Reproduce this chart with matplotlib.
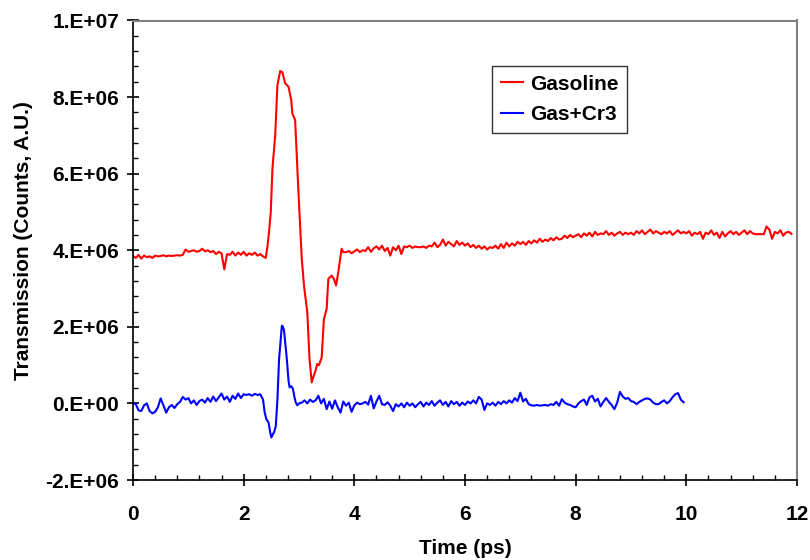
import numpy as np
import matplotlib
matplotlib.use("Agg")
import matplotlib.pyplot as plt
from matplotlib.ticker import MultipleLocator, FuncFormatter

plt.rcParams['font.family'] = ['Liberation Sans', 'DejaVu Sans']
plt.rcParams['font.weight'] = 'bold'

STEP = 0.05

# ---- Gasoline (red), values in units of 1e6 counts ----
gas_start1 = 0.0
gas_base1 = [3.85, 3.80, 3.88, 3.78, 3.86, 3.82, 3.84, 3.80, 3.86, 3.84,
             3.85, 3.87, 3.84, 3.86, 3.85, 3.86, 3.87, 3.86, 3.88, 4.02,
             3.96, 3.98, 4.00, 3.96, 3.98, 4.04, 3.97, 4.00, 3.95, 3.98,
             3.90, 3.96, 3.92, 3.50, 3.90, 3.88, 3.96, 3.86, 3.94, 3.88,
             3.96, 3.86, 3.92, 3.88, 3.94, 3.86, 3.90, 3.84, 3.80]

gas_peak_t = [2.43, 2.46, 2.49, 2.52, 2.57, 2.61, 2.66, 2.70, 2.75, 2.81,
              2.86, 2.88, 2.93, 2.99, 3.05, 3.09, 3.15, 3.19, 3.23, 3.26,
              3.29, 3.33, 3.36, 3.41, 3.45, 3.50, 3.53, 3.59, 3.63, 3.67,
              3.71, 3.77, 3.80]
gas_peak_v = [4.10, 4.50, 5.00, 6.13, 7.00, 8.31, 8.68, 8.65, 8.36, 8.27,
              7.92, 7.57, 7.40, 5.52, 3.78, 3.08, 2.38, 1.16, 0.55, 0.70,
              0.81, 1.03, 1.00, 1.20, 2.20, 2.47, 3.25, 3.34, 3.25, 3.08,
              3.43, 4.04, 3.95]

gas_start2 = 3.85
gas_base2 = [3.95, 3.98, 3.92,
             3.97, 4.02, 3.95, 4.00, 3.98, 4.08, 3.96, 4.05, 4.10, 4.02,
             4.12, 3.98, 4.06, 3.86, 4.08, 4.00, 4.12, 3.90, 4.10, 4.08,
             4.12, 4.06, 4.10, 4.08, 4.08, 4.10, 4.06, 4.12, 4.10, 4.20,
             4.08, 4.14, 4.28, 4.12, 4.22, 4.16, 4.10, 4.24, 4.14, 4.20,
             4.12, 4.18, 4.08, 4.14, 4.06, 4.12, 4.04, 4.10, 4.02, 4.08,
             4.06, 4.12, 4.04, 4.16, 4.06, 4.20, 4.10, 4.18, 4.12, 4.22,
             4.16, 4.22, 4.14, 4.24, 4.18, 4.26, 4.20, 4.30, 4.22, 4.28,
             4.24, 4.32, 4.26, 4.34, 4.28, 4.30, 4.38, 4.32, 4.40, 4.34,
             4.38, 4.42, 4.34, 4.44, 4.38, 4.46, 4.36, 4.48, 4.40, 4.44,
             4.42, 4.50, 4.40, 4.46, 4.38, 4.44, 4.48, 4.40, 4.46, 4.42,
             4.46, 4.40, 4.50, 4.44, 4.52, 4.42, 4.48, 4.54, 4.44, 4.50,
             4.46, 4.42, 4.48, 4.44, 4.50, 4.40, 4.46, 4.52, 4.44, 4.48,
             4.44, 4.50, 4.38, 4.46, 4.42, 4.48, 4.30, 4.46, 4.42, 4.52,
             4.40, 4.46, 4.32, 4.48, 4.36, 4.44, 4.50, 4.42, 4.48, 4.40,
             4.46, 4.52, 4.42, 4.50, 4.44, 4.42, 4.42, 4.42, 4.42, 4.62,
             4.54, 4.30, 4.48, 4.44, 4.52, 4.38, 4.46, 4.48, 4.43]

# ---- Gas+Cr3 (blue), values in units of 1e6 counts ----
cr_start1 = 0.0
cr_base1 = [0.00, -0.02, -0.18, -0.20, -0.05, 0.00, -0.20, -0.26, -0.22, -0.10,
            0.13, -0.05, -0.24, -0.10, -0.04, -0.12, -0.02, 0.04, 0.17, 0.10,
            0.14, 0.00, 0.08, -0.04, 0.06, 0.10, 0.02, 0.14, 0.04, 0.18,
            0.06, 0.16, 0.26, 0.10, 0.18, 0.04, 0.20, 0.12, 0.26, 0.14,
            0.24, 0.22, 0.24, 0.20, 0.25, 0.22, 0.24, 0.10]

cr_peak_t = [2.38, 2.41, 2.45, 2.48, 2.50, 2.53, 2.55, 2.58, 2.61, 2.64,
             2.69, 2.71, 2.73, 2.78, 2.81, 2.83, 2.86, 2.89, 2.92, 2.94,
             2.97, 3.00]
cr_peak_v = [-0.24, -0.41, -0.50, -0.76, -0.89, -0.80, -0.75, -0.60, 0.10, 1.16,
             2.03, 2.00, 1.90, 1.16, 0.60, 0.42, 0.45, 0.38, 0.15, 0.03,
             -0.05, 0.00]

cr_start2 = 3.05
cr_base2 = [0.02, 0.08, 0.00, 0.10, 0.04, 0.08, 0.20, 0.00, 0.12, -0.15,
            0.05, -0.14, 0.08, -0.10, -0.24, 0.05, -0.06, 0.02, -0.22,
            -0.05, 0.02, -0.02, 0.00, 0.04, -0.03, 0.20, -0.13, 0.05, 0.20,
            -0.02, -0.04, 0.03, -0.06, -0.20, -0.02, -0.08, 0.00, -0.10, 0.02,
            -0.06, 0.00, -0.10, -0.02, 0.04, -0.08, 0.02, -0.04, 0.06, -0.06,
            0.02, 0.08, -0.04, 0.04, -0.08, 0.06, -0.02, 0.04, -0.06, 0.02,
            -0.04, 0.05, 0.00, 0.08, 0.00, 0.17, 0.10, -0.17, 0.00, -0.04,
            0.02, -0.06, 0.04, -0.02, 0.06, 0.00, 0.08, 0.02, 0.14, 0.06,
            0.28, 0.05, 0.12, -0.02, -0.05, -0.06, -0.04, -0.06, -0.05, -0.04,
            -0.06, -0.02, -0.04, 0.04, -0.06, 0.11, 0.02, -0.02, -0.04, -0.08,
            -0.10, 0.00, 0.06, 0.10, -0.04, 0.16, 0.20, 0.05, 0.12, -0.08,
            0.04, 0.14, 0.04, -0.04, -0.15, 0.02, 0.30, 0.18, 0.12, 0.14,
            0.06, 0.04, -0.02, 0.04, 0.08, 0.12, 0.13, 0.10, 0.02, -0.02,
            -0.02, 0.04, 0.08, 0.00, 0.06, 0.16, 0.24, 0.27, 0.10, 0.03]

SCALE = 1e6
FS = 15


def seg_times(start, vals):
    return start + STEP * np.arange(len(vals))


gas_t = np.concatenate([seg_times(gas_start1, gas_base1), gas_peak_t,
                        seg_times(gas_start2, gas_base2)])
gas_v = np.concatenate([gas_base1, gas_peak_v, gas_base2]) * SCALE
cr_t = np.concatenate([seg_times(cr_start1, cr_base1), cr_peak_t,
                       seg_times(cr_start2, cr_base2)])
cr_v = np.concatenate([cr_base1, cr_peak_v, cr_base2]) * SCALE

fig = plt.figure(figsize=(8.1, 5.6), dpi=100)
ax = fig.add_axes([133 / 810, 80 / 560, 664 / 810, 459.5 / 560])

ax.plot(gas_t, gas_v, color='#ff0000', lw=1.5, label='Gasoline')
ax.plot(cr_t, cr_v, color='#0000ff', lw=1.5, label='Gas+Cr3')

ax.set_xlim(0, 12)
ax.set_ylim(-2e6, 1e7)
ax.xaxis.set_major_locator(MultipleLocator(2))
ax.xaxis.set_minor_locator(MultipleLocator(0.4))
ax.yaxis.set_major_locator(MultipleLocator(2e6))
ax.yaxis.set_minor_locator(MultipleLocator(4e5))
ax.yaxis.set_major_formatter(FuncFormatter(lambda v, p: '{:#.0E}'.format(v)))
ax.xaxis.set_major_formatter(FuncFormatter(lambda v, p: '%d' % round(v)))

ax.tick_params(which='major', direction='inout', length=8, width=1.2,
               labelsize=FS, colors='black')
ax.tick_params(axis='y', which='major', pad=6)
ax.tick_params(axis='x', which='major', pad=14)
ax.tick_params(which='minor', direction='in', length=3.5, width=1.0)
for lab in ax.get_xticklabels() + ax.get_yticklabels():
    lab.set_fontweight('bold')

for s in ['left', 'bottom']:
    ax.spines[s].set_color('black')
    ax.spines[s].set_linewidth(1.2)
for s in ['top', 'right']:
    ax.spines[s].set_color('#808080')
    ax.spines[s].set_linewidth(1.5)

ax.set_xlabel('Time (ps)', fontsize=FS, fontweight='bold')
ax.set_ylabel('Transmission (Counts, A.U.)', fontsize=FS, fontweight='bold')
ax.xaxis.set_label_coords(0.5, -0.128)
ax.yaxis.set_label_coords(-0.150, 0.52)

leg = ax.legend(loc='upper left', bbox_to_anchor=(0.5407, 0.9014),
                borderaxespad=0, frameon=True, fancybox=False,
                prop={'size': FS, 'weight': 'bold'},
                handlelength=1.06, handletextpad=0.34, borderpad=0.42,
                labelspacing=0.55)
leg.get_frame().set_edgecolor('black')
leg.get_frame().set_linewidth(1.0)
for line in leg.get_lines():
    line.set_linewidth(1.5)

fig.savefig('out.png', dpi=100)
